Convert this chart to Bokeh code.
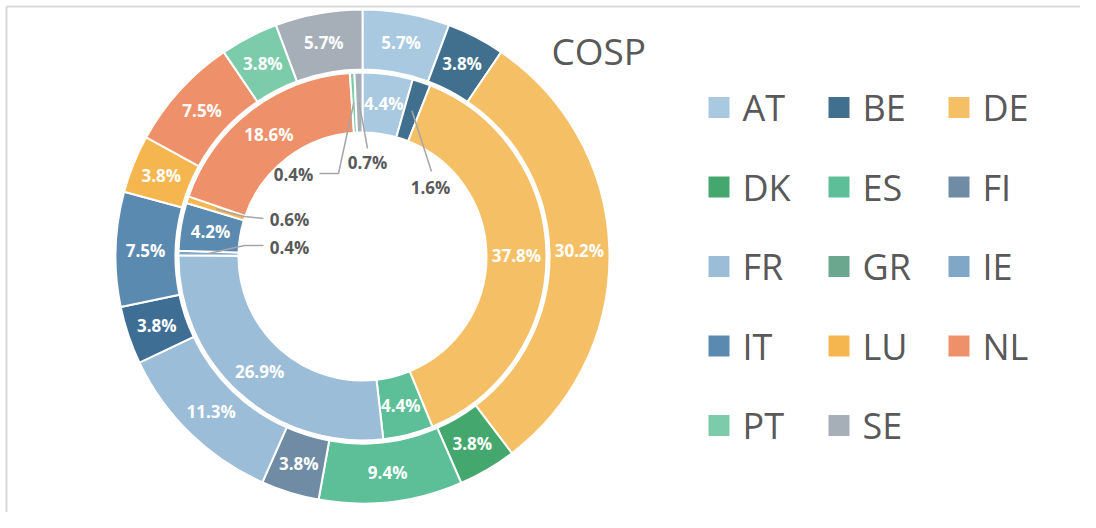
import numpy as np
from bokeh.plotting import figure
from bokeh.models import Range1d, ColumnDataSource
from bokeh.core.properties import value
from bokeh.embed import file_html
from bokeh.resources import INLINE

# ---------------- data ----------------
countries = ["AT", "BE", "DE", "DK", "ES", "FI", "FR", "GR", "IE", "IT", "LU", "NL", "PT", "SE"]
outer_pct = [5.7, 3.8, 30.2, 3.8, 9.4, 3.8, 11.3, 0.0, 3.8, 7.5, 3.8, 7.5, 3.8, 5.7]
inner_pct = [4.4, 1.6, 37.8, 0.0, 4.4, 0.0, 26.9, 0.0, 0.4, 4.2, 0.6, 18.6, 0.4, 0.7]
chart_title = "COSP"

# ---------------- styles ----------------
palette = {
    "AT": "#A9C9E1", "BE": "#41708F", "DE": "#F5C065", "DK": "#44A86E",
    "ES": "#5DBF97", "FI": "#6F8CA4", "FR": "#9BBDD8", "GR": "#6AA78E",
    "IE": "#80A7C6", "IT": "#5B8AB0", "LU": "#F6B64F", "NL": "#EE916A",
    "PT": "#7CCCAB", "SE": "#A6AEB8",
}
outer_override = {"IE": "#3F6E94"}
TXT = "#595959"
FONT = "Open Sans"

W, H = 1080, 512


def Y(img_y):
    return H - img_y


CX, CY = 362, Y(256)
R_IN = (124, 184)
R_OUT = (187, 247)

p = figure(width=W, height=H, x_range=Range1d(0, W), y_range=Range1d(0, H),
           output_backend="svg", toolbar_location=None, title=None,
           min_border=0, min_border_left=0, min_border_right=0,
           min_border_top=0, min_border_bottom=0)
p.axis.visible = False
p.grid.visible = False
p.outline_line_color = None
p.background_fill_color = "white"
p.border_fill_color = "white"

# chart-area border (top and left visible)
p.segment(x0=[6, 6], y0=[Y(6), Y(6)], x1=[W, 6], y1=[Y(6), 0],
          line_color="#D9D9D9", line_width=2)


def ring(vals, r_in, r_out, colors):
    vals = np.asarray(vals, dtype=float)
    total = vals.sum()
    cum = np.concatenate([[0.0], np.cumsum(vals)])
    start = np.pi / 2 - 2 * np.pi * cum[:-1] / total
    end = np.pi / 2 - 2 * np.pi * cum[1:] / total
    mid = (start + end) / 2
    keep = vals > 0
    src = ColumnDataSource(dict(
        start=start[keep], end=end[keep],
        color=[c for c, k in zip(colors, keep) if k]))
    p.annular_wedge(x=CX, y=CY, inner_radius=r_in, outer_radius=r_out,
                    start_angle="start", end_angle="end", direction="clock",
                    fill_color="color", line_color="white", line_width=2,
                    source=src)
    return mid


outer_colors = [outer_override.get(c, palette[c]) for c in countries]
inner_colors = [palette[c] for c in countries]
mid_out = ring(outer_pct, R_OUT[0], R_OUT[1], outer_colors)
mid_in = ring(inner_pct, R_IN[0], R_IN[1], inner_colors)

# in-wedge labels
lx, ly, lt = [], [], []
rm_out = (R_OUT[0] + R_OUT[1]) / 2
rm_in = (R_IN[0] + R_IN[1]) / 2
for i, v in enumerate(outer_pct):
    if v > 0:
        lx.append(CX + rm_out * np.cos(mid_out[i]))
        ly.append(CY + rm_out * np.sin(mid_out[i]))
        lt.append(f"{v:.1f}%")
for i, v in enumerate(inner_pct):
    if v >= 4:
        lx.append(CX + rm_in * np.cos(mid_in[i]))
        ly.append(CY + rm_in * np.sin(mid_in[i]))
        lt.append(f"{v:.1f}%")
p.text(x=lx, y=ly, text=lt, text_align="center", text_baseline="middle",
       text_color="white", text_font=value(FONT), text_font_style="bold",
       text_font_size="17px")

# callout labels for small inner slices: label position and elbow (image px)
callouts = {
    "BE": ((430, 187), [(431, 171)]),
    "SE": ((367, 162), [(367, 148)]),
    "PT": ((293, 174), [(319, 173), (338, 173)]),
    "LU": ((289, 219), [(263, 218), (244, 216)]),
    "IE": ((289, 247), [(263, 245), (244, 245)]),
}
cx_, cy_, ct_ = [], [], []
xs, ys = [], []
for c, (pos, elbow) in callouts.items():
    i = countries.index(c)
    ax = CX + rm_in * np.cos(mid_in[i])
    ay = CY + rm_in * np.sin(mid_in[i])
    xs.append([e[0] for e in elbow] + [ax])
    ys.append([Y(e[1]) for e in elbow] + [ay])
    cx_.append(pos[0])
    cy_.append(Y(pos[1]))
    ct_.append(f"{inner_pct[i]:.1f}%")
p.multi_line(xs=xs, ys=ys, line_color="#A6A6A6", line_width=1.5)
p.text(x=cx_, y=cy_, text=ct_, text_align="center", text_baseline="middle",
       text_color=TXT, text_font=value(FONT), text_font_style="bold",
       text_font_size="17px")

# title
p.text(x=[551], y=[Y(50)], text=[chart_title], text_align="left",
       text_baseline="middle", text_color=TXT, text_font=value(FONT),
       text_font_size="37px")

# legend
sq_x, sq_y, tx, ty = [], [], [], []
for i, c in enumerate(countries):
    col, row = i % 3, i // 3
    left = 708 + 120 * col
    cyy = 107 + 79.5 * row
    sq_x.append(left + 10.5)
    sq_y.append(Y(cyy))
    tx.append(left + 34)
    ty.append(Y(cyy))
p.rect(x=sq_x, y=sq_y, width=21, height=21, fill_color=inner_colors,
       line_color=None)
p.text(x=tx, y=ty, text=countries, text_align="left", text_baseline="middle",
       text_color=TXT, text_font=value(FONT), text_font_size="36px")

open("out.html", "w").write(file_html(p, INLINE))
